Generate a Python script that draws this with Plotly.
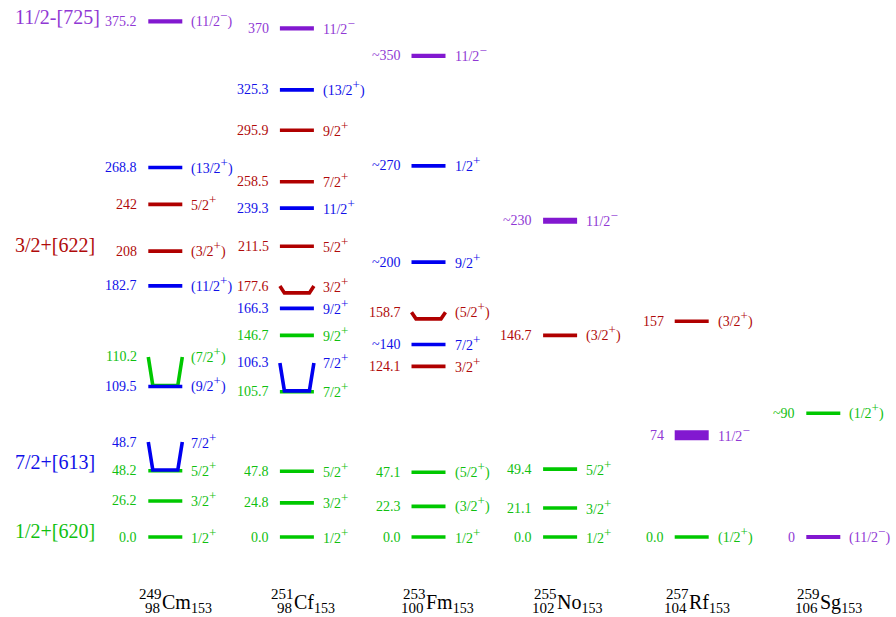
import plotly.graph_objects as go

# ---------------- data ----------------
nuclide_mass = ["249", "251", "253", "255", "257", "259"]
nuclide_z = ["98", "98", "100", "102", "104", "106"]
nuclide_symbol = ["Cm", "Cf", "Fm", "No", "Rf", "Sg"]
nuclide_n = ["153", "153", "153", "153", "153", "153"]

band_names = ["11/2-[725]", "3/2+[622]", "7/2+[613]", "1/2+[620]"]
band_keys = ["p", "r", "b", "g"]

P = "<sup><span style='font-size:13px'>+</span></sup>"
M = "<sup><span style='font-size:13px'>\u2212</span></sup>"

level_nuclide = [0, 0, 0, 0, 0, 0, 0, 0, 0, 0, 0,
                 1, 1, 1, 1, 1, 1, 1, 1, 1, 1, 1, 1, 1, 1,
                 2, 2, 2, 2, 2, 2, 2, 2, 2,
                 3, 3, 3, 3, 3,
                 4, 4, 4,
                 5, 5]
level_energy = [0.0, 26.2, 48.2, 48.7, 109.5, 110.2, 182.7, 208, 242, 268.8, 375.2,
                0.0, 24.8, 47.8, 105.7, 106.3, 146.7, 166.3, 177.6, 211.5, 239.3, 258.5, 295.9, 325.3, 370,
                0.0, 22.3, 47.1, 124.1, 140, 158.7, 200, 270, 350,
                0.0, 21.1, 49.4, 146.7, 230,
                0.0, 74, 157,
                0, 90]
level_text = ["0.0", "26.2", "48.2", "48.7", "109.5", "110.2", "182.7", "208", "242", "268.8", "375.2",
              "0.0", "24.8", "47.8", "105.7", "106.3", "146.7", "166.3", "177.6", "211.5", "239.3", "258.5", "295.9", "325.3", "370",
              "0.0", "22.3", "47.1", "124.1", "~140", "158.7", "~200", "~270", "~350",
              "0.0", "21.1", "49.4", "146.7", "~230",
              "0.0", "74", "157",
              "0", "~90"]
level_spin = ["1/2" + P, "3/2" + P, "5/2" + P, "7/2" + P, "(9/2" + P + ")", "(7/2" + P + ")",
              "(11/2" + P + ")", "(3/2" + P + ")", "5/2" + P, "(13/2" + P + ")", "(11/2" + M + ")",
              "1/2" + P, "3/2" + P, "5/2" + P, "7/2" + P, "7/2" + P, "9/2" + P, "9/2" + P, "3/2" + P,
              "5/2" + P, "11/2" + P, "7/2" + P, "9/2" + P, "(13/2" + P + ")", "11/2" + M,
              "1/2" + P, "(3/2" + P + ")", "(5/2" + P + ")", "3/2" + P, "7/2" + P, "(5/2" + P + ")",
              "9/2" + P, "1/2" + P, "11/2" + M,
              "1/2" + P, "3/2" + P, "5/2" + P, "(3/2" + P + ")", "11/2" + M,
              "(1/2" + P + ")", "11/2" + M, "(3/2" + P + ")",
              "(11/2" + M + ")", "(1/2" + P + ")"]
level_band = ["g", "g", "g", "b", "b", "g", "b", "r", "r", "b", "p",
              "g", "g", "g", "g", "b", "g", "b", "r", "r", "b", "r", "r", "b", "p",
              "g", "g", "g", "r", "b", "r", "b", "b", "p",
              "g", "g", "g", "r", "p",
              "g", "p", "r",
              "p", "g"]
# energy at which the label is printed (differs from level energy for close doublets)
level_label_at = [0.0, 26.2, 48.2, 69.1, 109.5, 131.0, 182.7, 208, 242, 268.8, 375.2,
                  0.0, 24.8, 47.8, 105.7, 126.6, 146.7, 166.3, 182.6, 211.5, 239.3, 258.5, 295.9, 325.3, 370,
                  0.0, 22.3, 47.1, 124.1, 140, 163.5, 200, 270, 350,
                  0.0, 21.1, 49.4, 146.7, 230,
                  0.0, 74, 157,
                  0, 90]

# ---------------- style ----------------
W, H = 896, 617
PX_PER_COL = 131.6
COL0_PX = 165.3
E0_PX = 537.0
PX_PER_KEV = 1.3745

x_min = 1 - COL0_PX / PX_PER_COL
x_max = 1 + (W - COL0_PX) / PX_PER_COL
y_min = -(H - E0_PX) / PX_PER_KEV
y_max = E0_PX / PX_PER_KEV

HALF = 17.0 / PX_PER_COL
INSET = 4.5 / PX_PER_COL

line_color = {"g": "#00c800", "b": "#0000f0", "r": "#b00000", "p": "#8218d0"}
text_color = {"g": "#10c010", "b": "#1010e8", "r": "#b00a0a", "p": "#9038d4"}
line_width = {"g": 3.6, "b": 3.6, "r": 3.6, "p": 4.2}
FONT = "Liberation Serif"

fig = go.Figure()

# heavier bars for particular isomers
heavy = {(3, 230): 6.0, (4, 74): 10.0}

for key in ["g", "b", "r", "p"]:
    for i in range(len(level_energy)):
        if level_band[i] != key:
            continue
        c = level_nuclide[i] + 1
        e = level_energy[i]
        lab = level_label_at[i]
        if abs(lab - e) > 1e-9:
            xs = [c - HALF, c - HALF + INSET, c + HALF - INSET, c + HALF]
            ys = [lab, e, e, lab]
        else:
            xs = [c - HALF, c + HALF]
            ys = [e, e]
        w = heavy.get((level_nuclide[i], e), line_width[key])
        fig.add_trace(go.Scatter(x=xs, y=ys, mode="lines",
                                 line=dict(color=line_color[key], width=w),
                                 hoverinfo="skip", showlegend=False))

annotations = []
for i in range(len(level_energy)):
    c = level_nuclide[i] + 1
    col = text_color[level_band[i]]
    annotations.append(dict(x=c, y=level_label_at[i], xref="x", yref="y",
                            text=level_text[i], showarrow=False,
                            xanchor="right", yanchor="middle", xshift=-26,
                            font=dict(family=FONT, size=14, color=col)))
    annotations.append(dict(x=c, y=level_label_at[i], xref="x", yref="y",
                            text=level_spin[i], showarrow=False,
                            xanchor="left", yanchor="middle", xshift=24, yshift=2,
                            font=dict(family=FONT, size=14, color=col)))

# band labels on the left
band_y_px = {"p": 17, "r": 245, "b": 462, "g": 531}
for name, key in zip(band_names, band_keys):
    annotations.append(dict(x=13 / W, y=1 - band_y_px[key] / H, xref="paper", yref="paper",
                            text=name, showarrow=False, xanchor="left", yanchor="middle",
                            font=dict(family=FONT, size=20, color=text_color[key])))

# nuclide labels
for k in range(len(nuclide_symbol)):
    c = k + 1
    annotations.append(dict(x=c, y=1 - 594 / H, xref="x", yref="paper", text=nuclide_mass[k],
                            showarrow=False, xanchor="right", yanchor="middle", xshift=-1,
                            font=dict(family=FONT, size=15, color="black")))
    annotations.append(dict(x=c, y=1 - 608 / H, xref="x", yref="paper", text=nuclide_z[k],
                            showarrow=False, xanchor="right", yanchor="middle", xshift=-3,
                            font=dict(family=FONT, size=15, color="black")))
    annotations.append(dict(x=c, y=1 - 603 / H, xref="x", yref="paper",
                            text=nuclide_symbol[k] + "<sub>" + nuclide_n[k] + "</sub>",
                            showarrow=False, xanchor="left", yanchor="middle", xshift=-5,
                            font=dict(family=FONT, size=20, color="black")))

fig.update_layout(
    width=W, height=H,
    margin=dict(l=0, r=0, t=0, b=0),
    paper_bgcolor="white", plot_bgcolor="white",
    xaxis=dict(range=[x_min, x_max], visible=False, fixedrange=True),
    yaxis=dict(range=[y_min, y_max], visible=False, fixedrange=True),
    annotations=annotations,
    showlegend=False,
)

fig.write_html("out.html", config={"displayModeBar": False},
               post_script="document.body.style.margin='0';document.body.style.overflow='hidden';")
